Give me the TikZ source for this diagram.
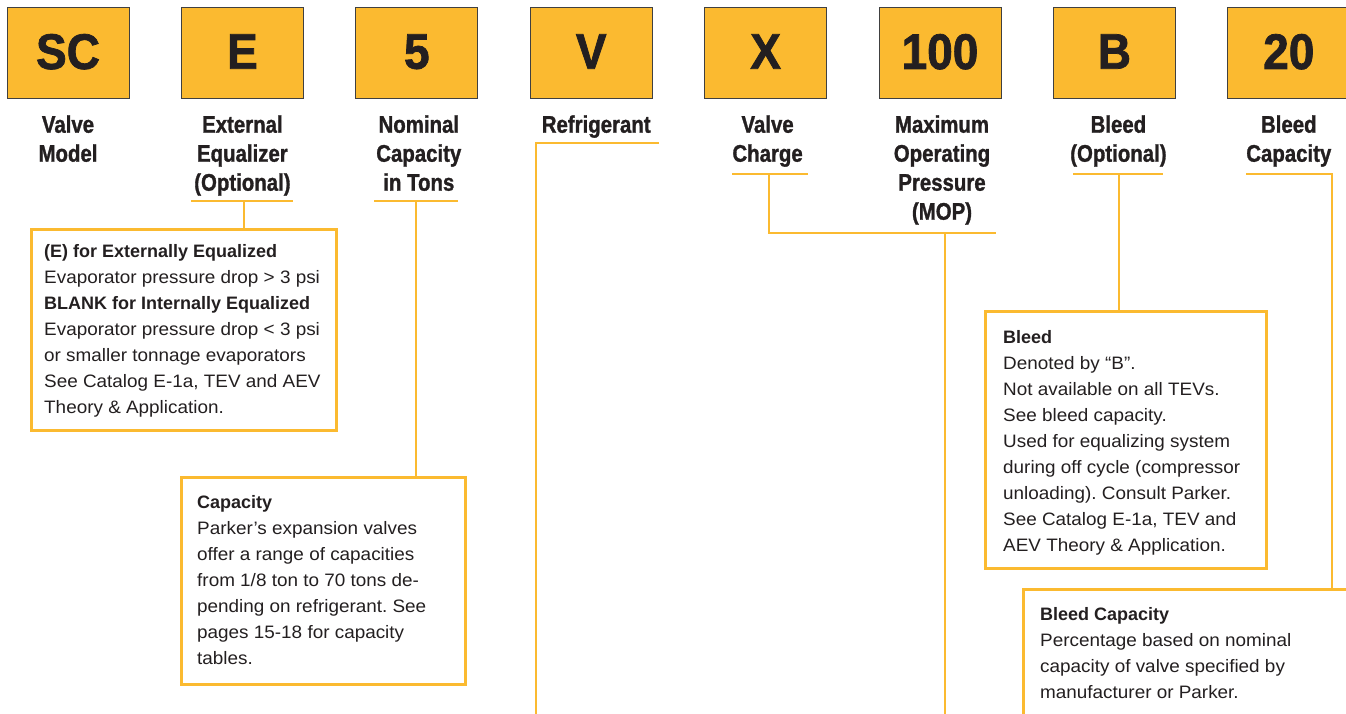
\documentclass[tikz,border=0pt]{standalone}
\usepackage{fontspec}
\newfontfamily\codefont[FakeStretch=0.92, FakeBold=1.5]{Liberation Sans Bold}
\newfontfamily\labfont[FakeStretch=0.85, FakeBold=1.2]{Liberation Sans Bold}
\newfontfamily\notefont[FakeStretch=1.05]{Liberation Sans}
\newfontfamily\notehead{Liberation Sans Bold}
\usepackage{tikz}
\usetikzlibrary{positioning}
\definecolor{parkergold}{HTML}{FBBA30}
\definecolor{inkgrey}{HTML}{231F20}
\tikzset{
  codebox/.style={draw=black!75, line width=1pt, fill=parkergold, minimum width=122pt, minimum height=91pt, inner sep=0pt, text=inkgrey, font=\codefont\fontsize{50}{60}\selectfont},
  lab/.style={align=center, inner sep=0pt, text=inkgrey, font=\labfont\fontsize{24}{29}\selectfont},
  notebox/.style={draw=parkergold, line width=2.6pt, anchor=north west, inner sep=0pt},
  note/.style={anchor=north west, align=left, inner sep=0pt, text=inkgrey, font=\notefont\fontsize{18}{26}\selectfont\frenchspacing},
  conn/.style={draw=parkergold, line width=2.8pt},
}

\begin{document}
\begin{tikzpicture}[x=1pt, y=-1pt]
        \useasboundingbox (0, 0) rectangle (1346, 713);
        \clip (0, 0) rectangle (1346, 713);
        % code boxes
        \foreach \code [count=\i] in {SC, E, 5, V, X, 100, B, 20} {
                \node[codebox] (c\i) at ({68 + 174.4*(\i - 1)}, 52.5) {\raisebox{2pt}{\code}};
            }
        % labels under the codes
        \node[lab, below=13.7pt of c1] (l1) {\strut Valve\\Model};
        \node[lab, below=13.7pt of c2] (l2) {\strut External\\Equalizer\\(Optional)};
        \node[lab, below=13.7pt of c3, xshift=2pt] (l3) {\strut Nominal\\Capacity\\in Tons};
        \node[lab, below=13.7pt of c4, xshift=5pt] (l4) {\strut Refrigerant};
        \node[lab, below=13.7pt of c5, xshift=2pt] (l5) {\strut Valve\\Charge};
        \node[lab, below=13.7pt of c6, xshift=2pt] (l6) {\strut Maximum\\Operating\\Pressure\\(MOP)};
        \node[lab, below=13.7pt of c7, xshift=4pt] (l7) {\strut Bleed\\(Optional)};
        \node[lab, below=13.7pt of c8] (l8) {\strut Bleed\\Capacity};
        % note boxes
        \node[notebox, minimum width=305pt, minimum height=201pt] (eq) at (30, 228) {};
        \node[note] (eqtxt) at ([xshift=14pt, yshift=-10.8pt]eq.north west)
                {\strut{\notehead (E) for Externally Equalized}\\
                 Evaporator pressure drop > 3 psi\\
                 {\notehead BLANK for Internally Equalized}\\
                 Evaporator pressure drop < 3 psi\\
                 or smaller tonnage evaporators\\
                 See Catalog E-1a, TEV and AEV\\
                 Theory \& Application.};
        \node[notebox, minimum width=284pt, minimum height=207pt] (cap) at (180, 476) {};
        \node[note] (captxt) at ([xshift=17pt, yshift=-13.8pt]cap.north west)
                {\strut{\notehead Capacity}\\
                 Parker’s expansion valves\\
                 offer a range of capacities\\
                 from 1/8 ton to 70 tons de-\\
                 pending on refrigerant. See\\
                 pages 15-18 for capacity\\
                 tables.};
        \node[notebox, minimum width=281pt, minimum height=257pt] (bleed) at (984, 310) {};
        \node[note] (bleedtxt) at ([xshift=19pt, yshift=-14.8pt]bleed.north west)
                {\strut{\notehead Bleed}\\
                 Denoted by “B”.\\
                 Not available on all TEVs.\\
                 See bleed capacity.\\
                 Used for equalizing system\\
                 during off cycle (compressor\\
                 unloading). Consult Parker.\\
                 See Catalog E-1a, TEV and\\
                 AEV Theory \& Application.};
        \node[notebox, minimum width=400pt, minimum height=200pt] (bcap) at (1022, 588) {};
        \node[note] (bcaptxt) at ([xshift=18pt, yshift=-13.8pt]bcap.north west)
                {\strut{\notehead Bleed Capacity}\\
                 Percentage based on nominal\\
                 capacity of valve specified by\\
                 manufacturer or Parker.};
        % connectors
        \coordinate (e2) at (244, 201);
        \draw[conn] (191, 201) -- (293, 201);
        \draw[conn] (e2) -- (e2 |- eq.north);
        \coordinate (e3) at (416, 201);
        \draw[conn] (374, 201) -- (458, 201);
        \draw[conn] (e3) -- (e3 |- cap.north);
        \coordinate (e4) at (659, 143);
        \coordinate (e4b) at (536, 720);
        \draw[conn] (e4) -| (e4b);
        \coordinate (e5) at (769, 174);
        \coordinate (e6) at (996, 233);
        \coordinate (e6b) at (945, 720);
        \draw[conn] (732, 174) -- (808, 174);
        \draw[conn] (e5) |- (e6);
        \draw[conn] (e6b |- e6) -- (e6b);
        \coordinate (e7) at (1119, 174);
        \draw[conn] (1073, 174) -- (1163, 174);
        \draw[conn] (e7) -- (e7 |- bleed.north);
        \coordinate (e8) at (1246, 174);
        \draw[conn] (e8) -| ([xshift=310pt]bcap.north west);
    \end{tikzpicture}
\end{document}
